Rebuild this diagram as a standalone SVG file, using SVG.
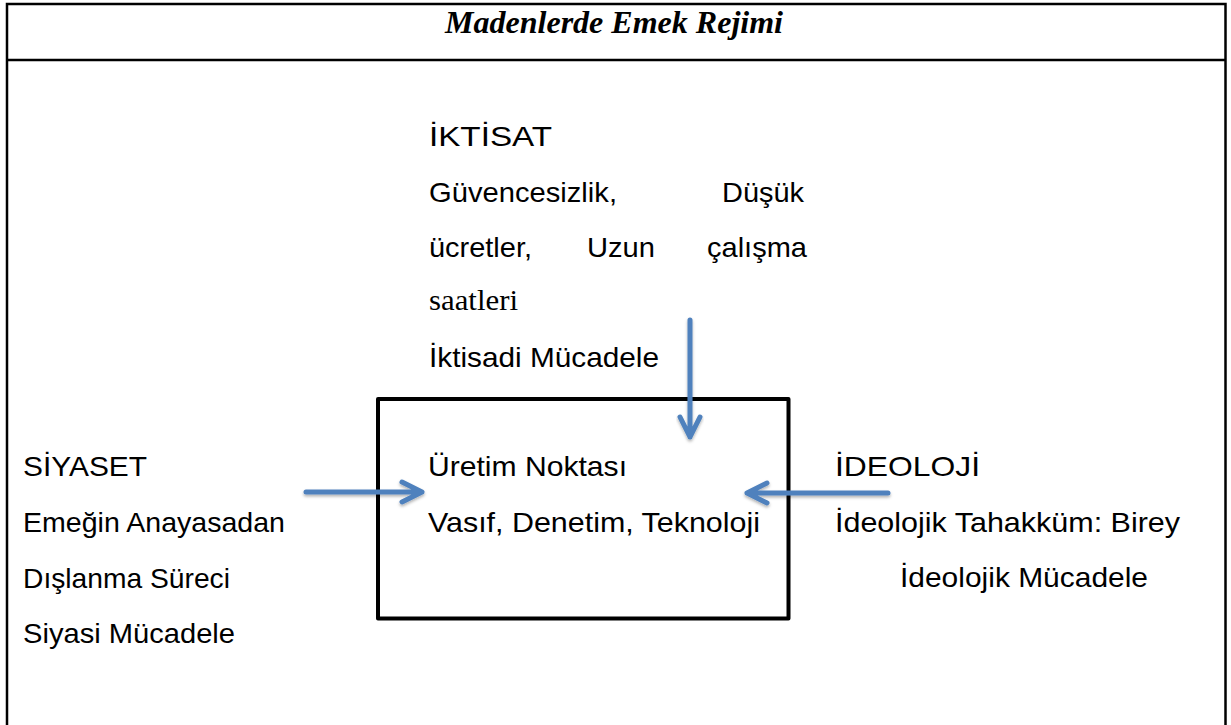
<svg xmlns="http://www.w3.org/2000/svg" width="1231" height="725" viewBox="0 0 1231 725">
  <style>
    .t { font-family: "Liberation Sans", Arial, sans-serif; font-size: 28px; fill: #000; }
    .serif { font-family: "Liberation Serif", "Times New Roman", serif; font-size: 30px; fill: #000; }
    .title { font-family: "Liberation Serif", "Times New Roman", serif; font-size: 31px; font-weight: bold; font-style: italic; fill: #000; }
    .frame { fill: none; stroke: #000; stroke-width: 2.5; }
    .box { fill: #fff; stroke: #000; stroke-width: 4; stroke-linejoin: round; }
    .arrow { fill: none; stroke: #4F81BD; stroke-width: 5; stroke-linecap: round; stroke-linejoin: round; filter: url(#shadow); }
  </style>
  <defs>
    <filter id="shadow" x="-20%" y="-50%" width="140%" height="200%">
      <feDropShadow dx="0" dy="2" stdDeviation="1.5" flood-color="#000" flood-opacity="0.3"/>
    </filter>
  </defs>

  <rect width="1231" height="725" fill="#fff"/>

  <g id="frame">
    <rect class="frame" x="7" y="4" width="1218.5" height="730"/>
    <line class="frame" x1="7" y1="60" x2="1225.5" y2="60"/>
  </g>

  <g id="title">
    <text class="title" x="614" y="33" text-anchor="middle" textLength="338" lengthAdjust="spacingAndGlyphs">Madenlerde Emek Rejimi</text>
  </g>

  <g id="node-uretim">
    <rect class="box" x="378" y="399" width="410.5" height="219.5"/>
    <text class="t" x="428" y="476" textLength="199" lengthAdjust="spacingAndGlyphs">Üretim Noktası</text>
    <text class="t" x="428" y="532" textLength="332" lengthAdjust="spacingAndGlyphs">Vasıf, Denetim, Teknoloji</text>
  </g>

  <g id="node-iktisat">
    <text class="t" x="429" y="146" textLength="123" lengthAdjust="spacingAndGlyphs">İKTİSAT</text>
    <text class="t" x="429" y="202" textLength="188" lengthAdjust="spacingAndGlyphs">Güvencesizlik,</text>
    <text class="t" x="722" y="202" textLength="82" lengthAdjust="spacingAndGlyphs">Düşük</text>
    <text class="t" x="429" y="257" textLength="103" lengthAdjust="spacingAndGlyphs">ücretler,</text>
    <text class="t" x="587" y="257" textLength="68" lengthAdjust="spacingAndGlyphs">Uzun</text>
    <text class="t" x="707" y="257" textLength="100" lengthAdjust="spacingAndGlyphs">çalışma</text>
    <text class="serif" x="429" y="310" textLength="89" lengthAdjust="spacingAndGlyphs">saatleri</text>
    <text class="t" x="429" y="367" textLength="230" lengthAdjust="spacingAndGlyphs">İktisadi Mücadele</text>
  </g>

  <g id="node-siyaset">
    <text class="t" x="23" y="476" textLength="124" lengthAdjust="spacingAndGlyphs">SİYASET</text>
    <text class="t" x="23" y="532" textLength="262" lengthAdjust="spacingAndGlyphs">Emeğin Anayasadan</text>
    <text class="t" x="23" y="588" textLength="207" lengthAdjust="spacingAndGlyphs">Dışlanma Süreci</text>
    <text class="t" x="23" y="643" textLength="212" lengthAdjust="spacingAndGlyphs">Siyasi Mücadele</text>
  </g>

  <g id="node-ideoloji">
    <text class="t" x="835" y="476" textLength="145" lengthAdjust="spacingAndGlyphs">İDEOLOJİ</text>
    <text class="t" x="835" y="532" textLength="345" lengthAdjust="spacingAndGlyphs">İdeolojik Tahakküm: Birey</text>
    <text class="t" x="900" y="587" textLength="248" lengthAdjust="spacingAndGlyphs">İdeolojik Mücadele</text>
  </g>

  <g id="connectors">
    <path class="arrow" d="M690,320 L690,437 M680,417 L690,437 L700,417"/>
    <path class="arrow" d="M306,492 L422,492 M402,482 L422,492 L402,502"/>
    <path class="arrow" d="M888,493 L747,493 M767,483 L747,493 L767,503"/>
  </g>
</svg>
